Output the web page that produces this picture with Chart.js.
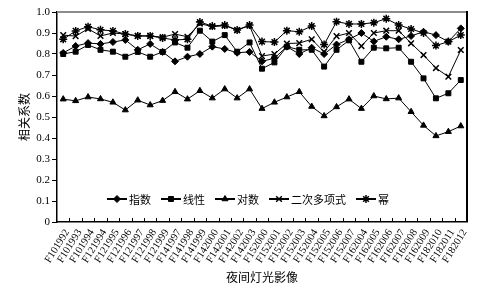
<!DOCTYPE html>
<html>
<head>
<meta charset="utf-8">
<script src="https://cdn.jsdelivr.net/npm/chart.js@4.4.1/dist/chart.umd.min.js"></script>
<style>
  html, body { margin: 0; padding: 0; background: #fff; }
  #wrap { width: 483px; height: 288px; }
</style>
</head>
<body>
<div id="wrap"><canvas id="chart" width="483" height="288"></canvas></div>
<script>
// Images de lumière nocturne (axe X)
const categories = ["F101992", "F101993", "F101994", "F121994", "F121995", "F121996", "F121997", "F121998",
    "F121999", "F141997", "F141998", "F141999", "F142000", "F142001", "F142002", "F142003", "F152000",
    "F152001", "F152002", "F152003", "F152004", "F152005", "F152006", "F152007", "F162004", "F162005",
    "F162006", "F162007", "F162008", "F162009", "F182010", "F182011", "F182012"];

// Coefficients de corrélation
const exponentiel = [0.805, 0.838, 0.852, 0.848, 0.857, 0.867, 0.82, 0.848, 0.81, 0.765, 0.787, 0.80, 0.835,
    0.824, 0.806, 0.81, 0.765, 0.78, 0.835, 0.80, 0.83, 0.80, 0.845, 0.87, 0.90, 0.86, 0.882, 0.87, 0.886,
    0.906, 0.89, 0.859, 0.922];
const lineaire = [0.80, 0.811, 0.843, 0.82, 0.811, 0.787, 0.81, 0.787, 0.81, 0.855, 0.83, 0.911, 0.859, 0.89,
    0.811, 0.855, 0.73, 0.76, 0.835, 0.82, 0.82, 0.74, 0.82, 0.865, 0.763, 0.83, 0.827, 0.83, 0.763, 0.684,
    0.589, 0.613, 0.676];
const logarithme = [0.585, 0.577, 0.595, 0.586, 0.57, 0.533, 0.58, 0.557, 0.578, 0.62, 0.585, 0.625, 0.59,
    0.633, 0.59, 0.633, 0.54, 0.57, 0.595, 0.62, 0.55, 0.505, 0.548, 0.585, 0.54, 0.60, 0.586, 0.59, 0.525,
    0.46, 0.41, 0.43, 0.457];
const polynome = [0.89, 0.885, 0.92, 0.886, 0.90, 0.895, 0.886, 0.886, 0.88, 0.895, 0.882, 0.945, 0.93, 0.935,
    0.914, 0.935, 0.79, 0.80, 0.85, 0.852, 0.87, 0.81, 0.885, 0.90, 0.838, 0.90, 0.911, 0.911, 0.851, 0.795,
    0.733, 0.692, 0.819];
const puissance = [0.87, 0.91, 0.93, 0.915, 0.91, 0.895, 0.886, 0.886, 0.876, 0.867, 0.87, 0.952, 0.933, 0.938,
    0.914, 0.938, 0.859, 0.857, 0.911, 0.906, 0.933, 0.845, 0.954, 0.943, 0.943, 0.949, 0.968, 0.938, 0.919,
    0.90, 0.84, 0.859, 0.89];

const nomsSeries = ["指数", "线性", "对数", "二次多项式", "幂"];
const yTickLabels = ["0", "0.1", "0.2", "0.3", "0.4", "0.5", "0.6", "0.7", "0.8", "0.9", "1.0"];

const marqueurs = ["rectRot", "rect", "triangle", "crossRot", "star"];
const valeurs = [exponentiel, lineaire, logarithme, polynome, puissance];

const datasets = valeurs.map((data, i) => ({
    label: nomsSeries[i],
    data: data,
    borderColor: "#000",
    borderWidth: 1,
    pointStyle: marqueurs[i],
    pointRadius: i >= 3 ? 4 : 3.5,
    pointBackgroundColor: "#000",
    pointBorderColor: "#000",
    pointBorderWidth: i >= 3 ? 1.5 : 1,
    tension: 0,
}));

// Légende dessinée à l'intérieur de la zone du graphique
const legendeInterne = {
    id: "legendeInterne",
    afterDatasetsDraw(chart) {
        const ctx = chart.ctx;
        let x = 107;
        const y = 199;
        ctx.save();
        ctx.font = "11px 'Noto Sans CJK SC'";
        ctx.textBaseline = "middle";
        chart.data.datasets.forEach(ds => {
            ctx.strokeStyle = "#000";
            ctx.fillStyle = "#000";
            ctx.lineWidth = 2;
            ctx.beginPath();
            ctx.moveTo(x, y);
            ctx.lineTo(x + 20, y);
            ctx.stroke();
            ctx.lineWidth = ds.pointBorderWidth;
            Chart.helpers.drawPoint(ctx, {
                pointStyle: ds.pointStyle,
                radius: ds.pointRadius,
                borderWidth: ds.pointBorderWidth,
                rotation: 0,
            }, x + 10, y);
            ctx.fillText(ds.label, x + 22, y + 1);
            x += 22 + ctx.measureText(ds.label).width + 10;
        });
        ctx.restore();
    }
};

// Cadre : bord supérieur gris, bord droit noir, petites graduations entre catégories
const cadre = {
    id: "cadre",
    afterDraw(chart) {
        const ctx = chart.ctx;
        const a = chart.chartArea;
        ctx.save();
        ctx.lineWidth = 2;
        ctx.strokeStyle = "#8c8c8c";
        ctx.beginPath();
        ctx.moveTo(a.left, a.top);
        ctx.lineTo(a.right, a.top);
        ctx.stroke();
        ctx.strokeStyle = "#000";
        ctx.beginPath();
        ctx.moveTo(a.right, a.top - 1);
        ctx.lineTo(a.right, a.bottom);
        ctx.stroke();
        ctx.lineWidth = 1;
        const pas = (a.right - a.left) / categories.length;
        for (let i = 1; i < categories.length; i++) {
            const x = Math.round(a.left + i * pas) + 0.5;
            ctx.beginPath();
            ctx.moveTo(x, a.bottom);
            ctx.lineTo(x, a.bottom - 4);
            ctx.stroke();
        }
        ctx.restore();
    }
};

const ctx = document.getElementById("chart").getContext("2d");
const chart = new Chart(ctx, {
    type: "line",
    data: {
        labels: categories,
        datasets: datasets,
    },
    options: {
        responsive: false,
        animation: false,
        layout: {
            padding: { top: 12, right: 16, left: 0, bottom: 0 },
        },
        plugins: {
            legend: { display: false },
            tooltip: { enabled: false },
        },
        scales: {
            x: {
                offset: true,
                grid: { display: true, drawOnChartArea: false, drawTicks: false },
                border: { display: true, color: "#000", width: 1.5 },
                ticks: {
                    autoSkip: false,
                    minRotation: 58,
                    maxRotation: 58,
                    padding: 5,
                    labelOffset: 4,
                    color: "#000",
                    font: { family: "'Liberation Serif'", size: 10.5 },
                },
                title: {
                    display: true,
                    text: "夜间灯光影像",
                    color: "#000",
                    font: { family: "'Noto Sans CJK SC'", size: 12 },
                    padding: { top: 0, bottom: 3 },
                },
                afterFit(scale) { scale.height = 66; },
            },
            y: {
                min: 0,
                max: 1,
                grid: { display: true, drawOnChartArea: false, drawTicks: true, tickLength: 5, color: "#000" },
                border: { display: true, color: "#000", width: 1.5 },
                ticks: {
                    stepSize: 0.1,
                    padding: 2,
                    color: "#000",
                    font: { family: "'Liberation Serif'", size: 11 },
                    callback: (value, index) => yTickLabels[index],
                },
                title: {
                    display: true,
                    text: "相关系数",
                    color: "#000",
                    font: { family: "'Noto Sans CJK SC'", size: 12 },
                    padding: { top: 17, bottom: 0 },
                },
                afterFit(scale) { scale.width = 57; },
            },
        },
    },
    plugins: [legendeInterne, cadre],
});
</script>
</body>
</html>
